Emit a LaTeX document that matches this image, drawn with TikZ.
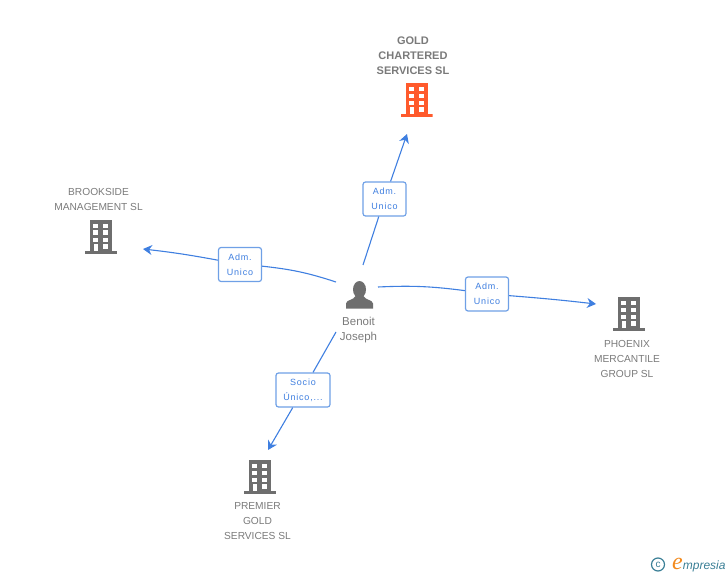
\documentclass[tikz,border=0pt]{standalone}
\usepackage{fontspec}
\setmainfont{Liberation Sans}
\newfontfamily\boxfont[LetterSpace=9]{Liberation Sans}
\newfontfamily\logofont{Liberation Serif}
\usetikzlibrary{arrows.meta}
\definecolor{linkblue}{HTML}{3F7FE0}
\definecolor{boxblue}{HTML}{6FA0E6}
\definecolor{iconorange}{HTML}{FF5A2C}
\definecolor{icongray}{HTML}{6E6E6E}
\definecolor{labelgray}{HTML}{7A7A7A}
\definecolor{logoteal}{HTML}{3A7F96}
\definecolor{logoorange}{HTML}{F28A1E}
\begin{document}
\begin{tikzpicture}[
	x=1pt,
	y=-1pt,
	building/.style={
		rectangle,
		inner sep=0pt,
		minimum width=32pt,
		minimum height=34pt,
		path picture={
			\begin{scope}[shift={(path picture bounding box.center)}]
				\fill[#1] (-11,-17) rectangle (11,14);
				\fill[#1] (-16,14) rectangle (16,17);
				\fill[white] (-8,-13) rectangle (-3,-9);
				\fill[white] (2,-13) rectangle (7,-9);
				\fill[white] (-8,-6.5) rectangle (-3,-2);
				\fill[white] (2,-6.5) rectangle (7,-2);
				\fill[white] (-8,1) rectangle (-3,5);
				\fill[white] (2,1) rectangle (7,5);
				\fill[white] (-7,7) rectangle (-3,14);
				\fill[white] (2,7) rectangle (7,12);
			\end{scope}
		}
	},
	person/.style={
		rectangle,
		inner sep=0pt,
		minimum width=28pt,
		minimum height=28pt,
		path picture={
			\begin{scope}[shift={(path picture bounding box.center)}]
				\fill[icongray] (0,-5) ellipse (6.5 and 8.5);
				\fill[icongray] (-13.5,14) -- (-13.5,9) .. controls (-13,5) and (-6,6) .. (-3.5,1) -- (3.5,1) .. controls (6,6) and (13,5) .. (13.5,9) -- (13.5,14) -- cycle;
			\end{scope}
		}
	},
	company/.style={
		align=center,
		inner sep=0pt,
		text=labelgray,
		font=\fontsize{10.2}{15}\selectfont
	},
	role/.style={
		rectangle,
		draw=boxblue,
		line width=1.2pt,
		fill=white,
		align=center,
		rounded corners=2.5pt,
		inner sep=0pt,
		minimum height=34pt,
		text=linkblue,
		font=\boxfont\fontsize{9}{15}\selectfont
	},
	link/.style={
		draw=linkblue,
		line width=1.1pt
	},
	arrow/.style={
		link,
		-{Stealth[length=9pt,width=10pt]}
	},
]

\useasboundingbox (0,0) rectangle (728,575);

\node[building=iconorange] (gold) at (416.5,100.5) {};
\node[building=icongray] (brookside) at (101,236.5) {};
\node[building=icongray] (phoenix) at (629,314) {};
\node[building=icongray] (premier) at (260,477) {};
\node[person] (benoit) at (359.5,294.5) {};

\node[company,font=\fontsize{11}{15}\selectfont\bfseries] (goldname) at (413,55.5) {GOLD\\CHARTERED\\SERVICES SL};
\node[company] (brooksidename) at (98.5,199) {BROOKSIDE\\MANAGEMENT SL};
\node[company] (phoenixname) at (627,358.5) {PHOENIX\\MERCANTILE\\GROUP SL};
\node[company] (premiername) at (257.5,521.5) {PREMIER\\GOLD\\SERVICES SL};
\node[company,font=\fontsize{11.5}{15}\selectfont] (benoitname) at (358.5,330) {Benoit\\Joseph};

\coordinate (goldstart) at (363,265);
\coordinate (goldend) at (407,134);
\coordinate (brooksidestart) at (336,282);
\coordinate (brooksideend) at (143,249);
\coordinate (phoenixstart) at (378,287);
\coordinate (phoenixend) at (596,304);
\coordinate (premierstart) at (336,332);
\coordinate (premierend) at (268,450);

\node[role,minimum width=43pt] (admgold) at (384.5,199) {Adm.\\Unico};
\node[role,minimum width=43pt] (admbrookside) at (240,264.5) {Adm.\\Unico};
\node[role,minimum width=43pt] (admphoenix) at (487,294) {Adm.\\Unico};
\node[role,minimum width=54pt] (socio) at (303,390) {Socio\\Único,...};

\draw[link] (goldstart) -- (admgold);
\draw[arrow] (admgold) -- (goldend);

\draw[link] (brooksidestart) to[bend right=6] (admbrookside);
\draw[arrow] (admbrookside) to[bend right=2] (brooksideend);

\draw[link] (phoenixstart) to[bend left=5] (admphoenix);
\draw[arrow] (admphoenix) to[bend left=1] (phoenixend);

\draw[link] (premierstart) -- (socio);
\draw[arrow] (socio) -- (premierend);

\node[circle,draw=logoteal,line width=1.2pt,inner sep=0pt,minimum size=13pt,text=logoteal,font=\fontsize{10}{10}\selectfont] (logomark) at (658,564.5) {c};
\node[inner sep=0pt,anchor=base west] (logotext) at (672,569) {\textcolor{logoorange}{\logofont\itshape\fontsize{24}{24}\selectfont e}\textcolor{logoteal}{\itshape\fontsize{12}{12}\selectfont mpresia}};

\end{tikzpicture}
\end{document}
